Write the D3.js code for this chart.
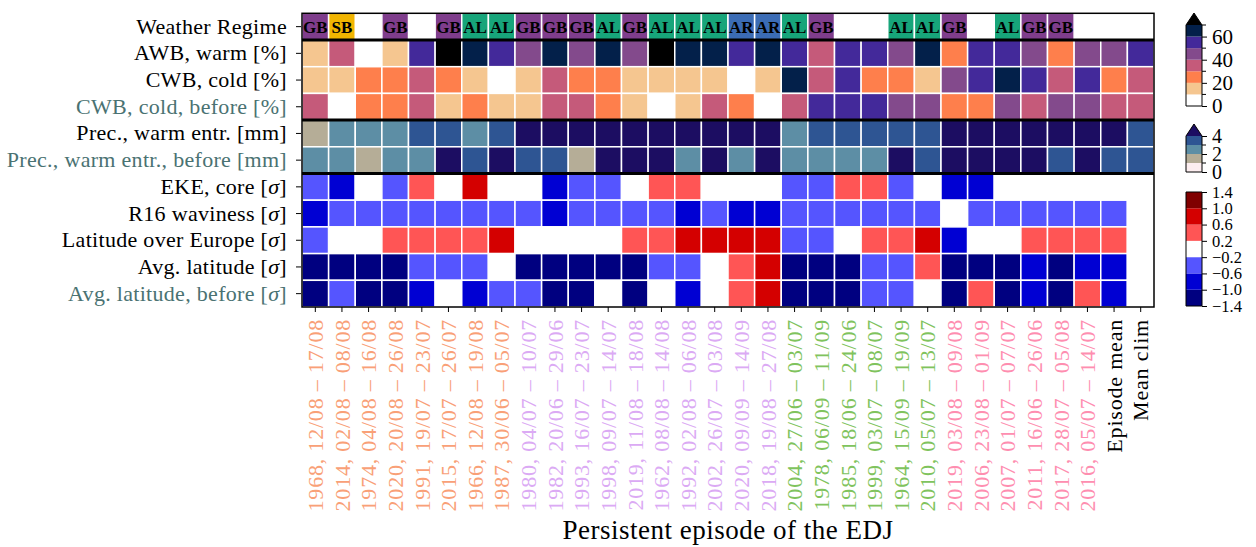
<!DOCTYPE html>
<html>
<head>
<meta charset="utf-8">
<script src="https://cdn.jsdelivr.net/npm/d3@7"></script>
<style>
body { margin: 0; background: #fff; }
text { font-family: "Liberation Serif", serif; }
</style>
</head>
<body>
<div id="chart"></div>
<script>
// episodes (columns), sorted by cluster
var episodes = ["1968, 12/08 – 17/08", "2014, 02/08 – 08/08", "1974, 04/08 – 16/08", "2020, 20/08 – 26/08",
    "1991, 19/07 – 23/07", "2015, 17/07 – 26/07", "1966, 12/08 – 19/08", "1987, 30/06 – 05/07",
    "1980, 04/07 – 10/07", "1982, 20/06 – 29/06", "1993, 16/07 – 23/07", "1998, 09/07 – 14/07",
    "2019, 11/08 – 18/08", "1962, 08/08 – 14/08", "1992, 02/08 – 06/08", "2002, 26/07 – 03/08",
    "2020, 09/09 – 14/09", "2018, 19/08 – 27/08", "2004, 27/06 – 03/07", "1978, 06/09 – 11/09",
    "1985, 18/06 – 24/06", "1999, 03/07 – 08/07", "1964, 15/09 – 19/09", "2010, 05/07 – 13/07",
    "2019, 03/08 – 09/08", "2006, 23/08 – 01/09", "2007, 01/07 – 07/07", "2011, 16/06 – 26/06",
    "2017, 28/07 – 05/08", "2016, 05/07 – 14/07", "Episode mean", "Mean clim"];
var cluster = [0,0,0,0,0,0,0,0, 1,1,1,1,1,1,1,1,1,1, 2,2,2,2,2,2, 3,3,3,3,3,3, -1,-1];

var rowNames = ["Weather Regime", "AWB, warm [%]", "CWB, cold [%]", "CWB, cold, before [%]",
    "Prec., warm entr. [mm]", "Prec., warm entr., before [mm]", "EKE, core [σ]", "R16 waviness [σ]",
    "Latitude over Europe [σ]", "Avg. latitude [σ]", "Avg. latitude, before [σ]"];
var beforeRows = ["CWB, cold, before [%]", "Prec., warm entr., before [mm]", "Avg. latitude, before [σ]"];

var regimes = ["GB","SB","","GB","","GB","AL","AL","GB","GB","GB","AL","GB","AL","AL","AL","AR","AR","AL","GB","","","AL","AL","GB","","AL","GB","GB","","",""];

var awbWarm = [15,35,5,15,55,75,65,55,45,65,45,65,45,75,65,65,55,65,55,35,55,55,45,65,25,55,55,45,25,45,45,55];
var cwbCold = [15,15,25,25,35,25,15,5,15,35,25,25,15,15,15,15,5,15,65,35,55,25,25,15,45,55,65,55,35,55,25,35];
var cwbColdBefore = [35,5,25,25,35,15,25,15,15,35,35,25,15,5,15,35,25,5,35,55,55,55,45,45,25,25,45,35,45,45,35,35];

var precWarm = [1.5,2.5,2.5,2.5,3.5,3.5,2.5,3.5,4.5,4.5,4.5,4.5,4.5,4.5,4.5,4.5,4.5,4.5,2.5,3.5,3.5,3.5,3.5,3.5,4.5,4.5,4.5,4.5,4.5,4.5,4.5,3.5];
var precWarmBefore = [2.5,2.5,1.5,2.5,2.5,4.5,3.5,4.5,3.5,3.5,1.5,4.5,4.5,4.5,2.5,4.5,2.5,4.5,2.5,2.5,2.5,2.5,4.5,3.5,4.5,4.5,4.5,4.5,3.5,4.5,3.5,3.5];

var ekeCore = [-0.4,-0.8,0,-0.4,0.4,0,0.8,0,0,-0.8,-0.4,-0.4,0,0.4,0.4,0,0,0,-0.4,-0.4,0.4,0.4,-0.4,0,-0.8,-0.8,0,0,0,0,0,0];
var r16 = [-0.8,-0.4,-0.4,-0.4,-0.4,-0.4,-0.4,-0.4,-0.4,-0.8,-0.4,-0.4,-0.4,-0.4,-0.8,-0.4,-0.8,-0.8,-0.4,-0.4,-0.4,-0.4,-0.4,-0.4,0,-0.4,-0.4,-0.4,-0.4,-0.4,-0.4,0];
var latEurope = [-0.4,0,0,0.4,0.4,0.4,0.4,0.8,0,0,0,0,0.4,0.4,0.8,0.8,0.8,0.8,-0.4,-0.4,0,0.4,0.4,0.8,-0.8,0,0,0.4,0.4,0.4,0.4,0];
var avgLat = [-1.2,-1.2,-1.2,-1.2,-0.4,-0.4,-0.4,0,-1.2,-1.2,-1.2,-1.2,-1.2,-0.4,-0.4,0,0.4,0.8,-1.2,-1.2,-1.2,-0.4,-0.4,0.4,-1.2,-1.2,-1.2,-0.8,-1.2,-0.8,-0.8,0];
var avgLatBefore = [-1.2,-0.4,-1.2,-1.2,-0.8,0,-0.8,-0.4,-0.4,-1.2,-1.2,0,-1.2,0,-0.8,0,0.4,0.8,-1.2,-1.2,-1.2,-0.4,-0.4,0,-1.2,0.4,-1.2,-0.8,-1.2,0.4,-0.8,0];

// colour maps (discrete)
var pctBounds = [0,10,20,30,40,50,60,70];
var pctColors = ["#ffffff","#f5c690","#fe7f4c","#c55a7a","#834a8c","#43299a","#03204a","#000000"];
var precBounds = [0,1,2,3,4];
var precColors = ["#fdeef0","#b5ad97","#5d8ea5","#2e5593","#1c0d62"];
var sigBounds = [-1.4,-1.0,-0.6,-0.2,0.2,0.6,1.0,1.4];
var sigColors = ["#000080","#0000d3","#5555ff","#ffffff","#ff5555","#d40000","#800000"];
var regimeColors = {GB: "#7f3d8c", SB: "#f2b500", AL: "#17a57a", AR: "#3b6cb5"};
var clusterColors = ["#f9a077","#dbaaf4","#80c35d","#fe8eb0"];

var pctScale = d3.scaleThreshold().domain(pctBounds.slice(1)).range(pctColors);
var precScale = d3.scaleThreshold().domain(precBounds.slice(1)).range(precColors);
var sigScale = d3.scaleThreshold().domain(sigBounds.slice(1, -1)).range(sigColors);

var rows = [
    {name: rowNames[1], values: awbWarm, color: pctScale},
    {name: rowNames[2], values: cwbCold, color: pctScale},
    {name: rowNames[3], values: cwbColdBefore, color: pctScale},
    {name: rowNames[4], values: precWarm, color: precScale},
    {name: rowNames[5], values: precWarmBefore, color: precScale},
    {name: rowNames[6], values: ekeCore, color: sigScale},
    {name: rowNames[7], values: r16, color: sigScale},
    {name: rowNames[8], values: latEurope, color: sigScale},
    {name: rowNames[9], values: avgLat, color: sigScale},
    {name: rowNames[10], values: avgLatBefore, color: sigScale}
];

var plot = {left: 302, right: 1154, top: 13.3, bottom: 307};

var svg = d3.select("#chart")
    .append("svg")
    .attr("width", 1256)
    .attr("height", 547);

var x = d3.scaleBand().domain(d3.range(episodes.length)).range([plot.left, plot.right]);
var y = d3.scaleBand().domain(rowNames).range([plot.top, plot.bottom]);

var cells = [];
rows.forEach(function(r) {
    r.values.forEach(function(v, i) {
        cells.push({row: r.name, col: i, fill: r.color(v)});
    });
});

svg.append("g").selectAll("rect")
    .data(cells)
    .enter().append("rect")
    .attr("x", function(d) { return x(d.col); })
    .attr("y", function(d) { return y(d.row); })
    .attr("width", x.bandwidth())
    .attr("height", y.bandwidth())
    .attr("fill", function(d) { return d.fill; })
    .attr("stroke", "#fff")
    .attr("stroke-width", 1.5);

// weather regime row
var reg = svg.append("g").selectAll("g")
    .data(regimes.map(function(r, i) { return {r: r, col: i}; }).filter(function(d) { return d.r; }))
    .enter().append("g");
reg.append("rect")
    .attr("x", function(d) { return x(d.col); })
    .attr("y", y(rowNames[0]))
    .attr("width", x.bandwidth())
    .attr("height", y.bandwidth())
    .attr("fill", function(d) { return regimeColors[d.r]; })
    .attr("stroke", "#fff")
    .attr("stroke-width", 1.5);
reg.append("text")
    .attr("x", function(d) { return x(d.col) + x.bandwidth() / 2; })
    .attr("y", y(rowNames[0]) + y.bandwidth() / 2)
    .attr("dy", "0.36em")
    .attr("text-anchor", "middle")
    .style("font-size", "17px")
    .style("font-weight", "bold")
    .text(function(d) { return d.r; });

// frame and group separators
svg.append("rect")
    .attr("x", plot.left).attr("y", plot.top)
    .attr("width", plot.right - plot.left).attr("height", plot.bottom - plot.top)
    .attr("fill", "none").attr("stroke", "#000").attr("stroke-width", 1.5);
[rowNames[1], rowNames[4], rowNames[6]].forEach(function(r) {
    svg.append("line")
        .attr("x1", plot.left).attr("x2", plot.right)
        .attr("y1", y(r)).attr("y2", y(r))
        .attr("stroke", "#000").attr("stroke-width", 3);
});

// y axis
var yAxis = svg.append("g")
    .attr("transform", "translate(" + (plot.left - 1) + ",0)")
    .call(d3.axisLeft(y).tickSize(5).tickPadding(9));
yAxis.select(".domain").remove();
yAxis.selectAll("text")
    .style("font-size", "22px")
    .style("letter-spacing", "0.3px")
    .attr("fill", function(d) { return beforeRows.indexOf(d) >= 0 ? "#4a7272" : "#000"; })
    .each(function(d) {
        if (d.indexOf("σ") < 0) return;
        var t = d3.select(this).text(null);
        var parts = d.split("σ");
        t.append("tspan").text(parts[0]);
        t.append("tspan").style("font-style", "italic").text("σ");
        t.append("tspan").text(parts[1]);
    });

// x axis
var xAxis = svg.append("g")
    .attr("transform", "translate(0," + plot.bottom + ")")
    .call(d3.axisBottom(x).tickSize(5).tickFormat(function(i) { return episodes[i]; }));
xAxis.select(".domain").remove();
xAxis.selectAll("text")
    .style("font-size", "22px")
    .style("letter-spacing", "0.8px")
    .attr("transform", "rotate(-90)")
    .attr("text-anchor", "end")
    .attr("x", -12)
    .attr("y", 0)
    .attr("dy", "0.35em")
    .attr("fill", function(i) { return cluster[i] >= 0 ? clusterColors[cluster[i]] : "#000"; });

svg.append("text")
    .attr("x", (plot.left + plot.right) / 2)
    .attr("y", 539)
    .attr("text-anchor", "middle")
    .style("font-size", "27px")
    .style("letter-spacing", "0.5px")
    .text("Persistent episode of the EDJ");

// colorbars
function colorbar(bounds, colors, top, bottom, ticks, minor, extColor, fmt, fontSize) {
    var cx = 1186, cw = 16;
    var s = d3.scaleLinear().domain([bounds[0], bounds[bounds.length - 1]]).range([bottom, top]);
    var g = svg.append("g");
    g.selectAll("rect")
        .data(d3.range(bounds.length - 1))
        .enter().append("rect")
        .attr("x", cx)
        .attr("y", function(i) { return s(bounds[i + 1]); })
        .attr("width", cw)
        .attr("height", function(i) { return s(bounds[i]) - s(bounds[i + 1]); })
        .attr("fill", function(i) { return colors[i]; });
    var outline = "M" + cx + "," + bottom + "V" + top;
    if (extColor) {
        g.append("path")
            .attr("d", "M" + cx + "," + top + "L" + (cx + cw / 2) + "," + (top - 12) + "L" + (cx + cw) + "," + top + "Z")
            .attr("fill", extColor);
        outline += "L" + (cx + cw / 2) + "," + (top - 12) + "L" + (cx + cw) + "," + top;
    } else {
        outline += "H" + (cx + cw);
    }
    outline += "V" + bottom + "Z";
    g.append("path").attr("d", outline).attr("fill", "none").attr("stroke", "#000").attr("stroke-width", 1);
    var ax = g.append("g")
        .attr("transform", "translate(" + (cx + cw) + ",0)")
        .call(d3.axisRight(s).tickValues(ticks).tickSize(5).tickPadding(5).tickFormat(fmt));
    ax.select(".domain").remove();
    ax.selectAll("text").style("font-size", fontSize + "px");
    ax.selectAll(".minor")
        .data(minor)
        .enter().append("line")
        .attr("class", "minor")
        .attr("x1", 0).attr("x2", 4)
        .attr("y1", function(v) { return s(v); }).attr("y2", function(v) { return s(v); })
        .attr("stroke", "#000");
}

colorbar(pctBounds, pctColors, 25, 106, [0, 20, 40, 60], [10, 30, 50, 70], "#000000", d3.format("d"), 21);
colorbar(precBounds, precColors, 136, 172, [0, 2, 4], [1, 3], precColors[4], d3.format("d"), 20);
colorbar(sigBounds, sigColors, 192, 306, sigBounds, [], null, d3.format(".1f"), 16.5);
</script>
</body>
</html>
